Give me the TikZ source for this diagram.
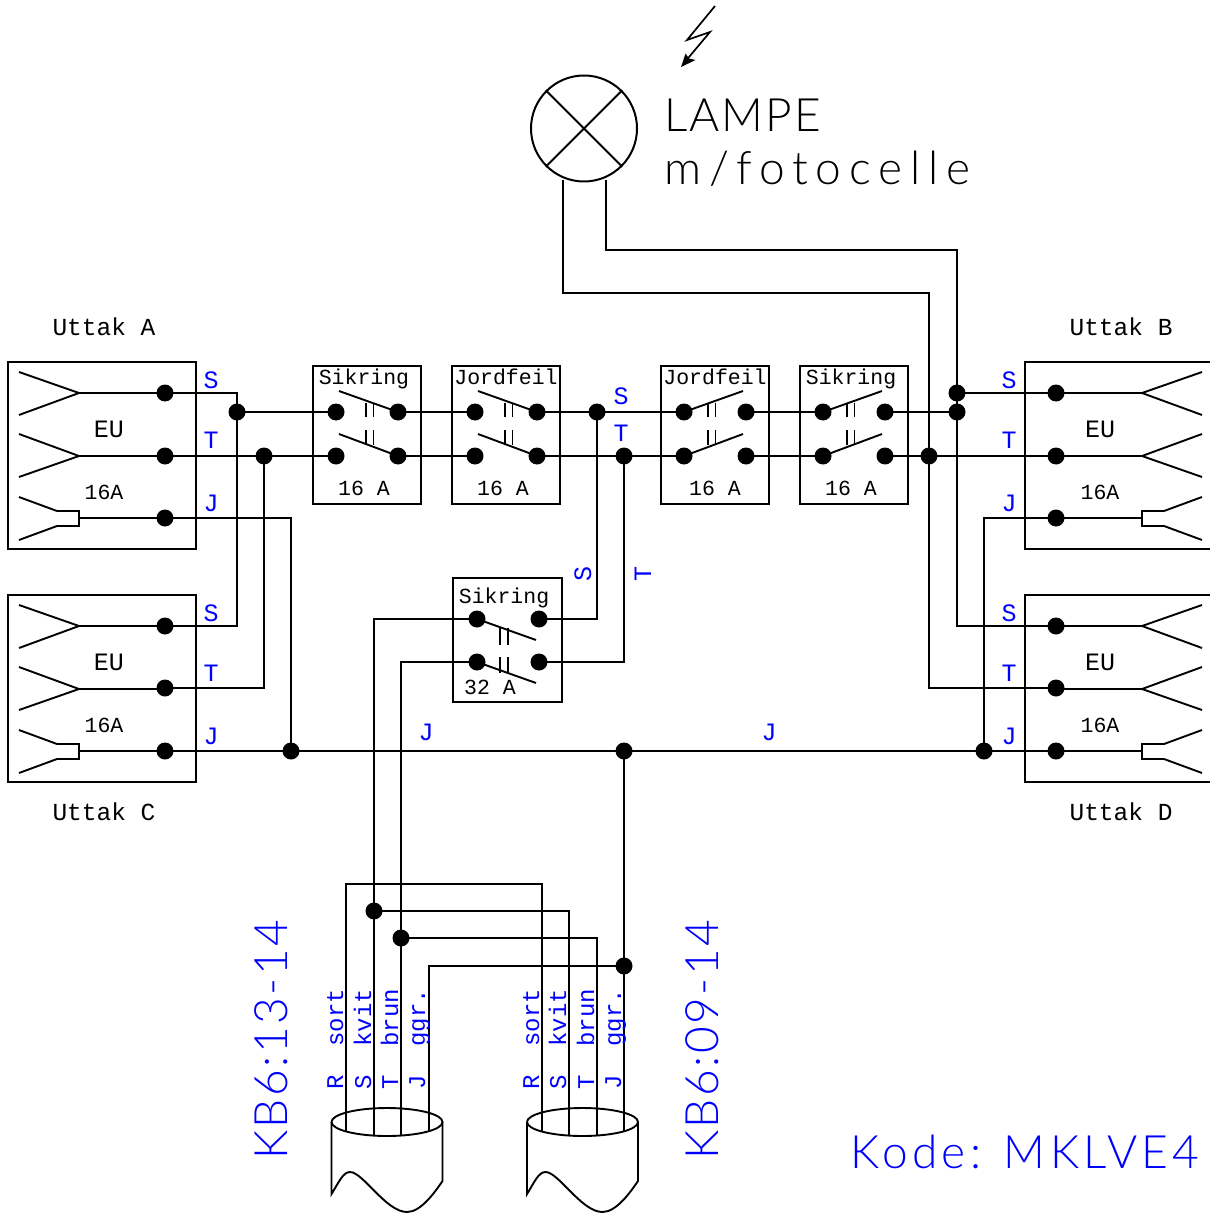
\documentclass[tikz,border=0pt]{standalone}
\usepackage{fontspec}
\setmainfont{Liberation Mono}
\newfontfamily\bigfont{Lato}[UprightFont=* Light]
\newcommand{\bigtext}[1]{\bigfont\addfontfeature{LetterSpace=#1}\fontsize{46}{46}\selectfont}
\definecolor{lblue}{RGB}{0,0,255}
\tikzset{
  wire/.style={line width=1.9pt,line join=miter},
  dot/.style={circle,fill=black,draw=none,minimum size=17pt,inner sep=0pt},
  boxx/.style={line width=2pt},
  tick/.style={line width=1.7pt},
  lab/.style={inner sep=0pt,anchor=base,font=\fontsize{24.5}{24.5}\selectfont},
  flab/.style={inner sep=0pt,anchor=base,font=\fontsize{21.5}{21.5}\selectfont},
  elab/.style={inner sep=0pt,anchor=base,font=\fontsize{25}{25}\selectfont},
  blab/.style={inner sep=0pt,anchor=base,text=lblue,font=\fontsize{25}{25}\selectfont},
  wlab/.style={inner sep=0pt,anchor=base west,rotate=90,text=lblue,font=\fontsize{24}{24}\selectfont},
  biglab/.style={inner sep=0pt,anchor=base west},
}
\begin{document}
\begin{tikzpicture}[x=1pt,y=-1pt]
\useasboundingbox (0,0) rectangle (1210,1214);
% outlet boxes
\draw[boxx] (8,362) rectangle (196,549);
\draw[boxx] (8,595) rectangle (196,782);
\draw[boxx] (1210,362) -- (1025,362) -- (1025,549) -- (1210,549);
\draw[boxx] (1210,595) -- (1025,595) -- (1025,782) -- (1210,782);
% outlet prongs
\foreach \yo in {0,233}{
  \draw[wire] (19,372+\yo) -- (79,393+\yo) -- (19,415+\yo);
  \draw[wire] (19,434+\yo) -- (79,456+\yo) -- (19,477+\yo);
  \draw[wire] (19,497+\yo) -- (57,511+\yo) -- (79,511+\yo) -- (79,526+\yo) -- (57,526+\yo) -- (19,540+\yo);
  \draw[wire] (1202,372+\yo) -- (1142,393+\yo) -- (1202,415+\yo);
  \draw[wire] (1202,434+\yo) -- (1142,456+\yo) -- (1202,477+\yo);
  \draw[wire] (1202,497+\yo) -- (1164,511+\yo) -- (1142,511+\yo) -- (1142,526+\yo) -- (1164,526+\yo) -- (1202,540+\yo);
  \draw[wire] (79,393+\yo) -- (165,393+\yo) (79,456+\yo) -- (165,456+\yo) (79,518+\yo) -- (165,518+\yo);
  \draw[wire] (1142,393+\yo) -- (1056,393+\yo) (1142,456+\yo) -- (1056,456+\yo) (1142,518+\yo) -- (1056,518+\yo);
}
% fuse boxes
\draw[boxx] (313,366) rectangle (421,504);
\draw[boxx] (452,366) rectangle (560,504);
\draw[boxx] (661,366) rectangle (769,504);
\draw[boxx] (800,366) rectangle (908,504);
\draw[boxx] (453,578) rectangle (562,702);
% outlet terminals
\node[dot] (sa) at (165,393) {}; \node[dot] (ta) at (165,456) {}; \node[dot] (ja) at (165,518) {};
\node[dot] (sc) at (165,626) {}; \node[dot] (tc) at (165,688) {}; \node[dot] (jc) at (165,751) {};
\node[dot] (sb) at (1056,393) {}; \node[dot] (tb) at (1056,456) {}; \node[dot] (jb) at (1056,518) {};
\node[dot] (sd) at (1056,626) {}; \node[dot] (td) at (1056,688) {}; \node[dot] (jd) at (1056,751) {};
% junctions
\node[dot] (j1) at (237,412) {}; \node[dot] (j2) at (264,456) {}; \node[dot] (j3) at (291,751) {};
\node[dot] (j4) at (597,412) {}; \node[dot] (j5) at (624,456) {}; \node[dot] (j6) at (624,751) {};
\node[dot] (j7) at (984,751) {}; \node[dot] (j8) at (957,393) {}; \node[dot] (j9) at (957,412) {};
\node[dot] (j10) at (929,456) {};
\node[dot] (k1) at (374,911) {}; \node[dot] (k2) at (401,938) {}; \node[dot] (k3) at (624,966) {};
% breaker contacts
\node[dot] (p1) at (336,412) {}; \node[dot] (p2) at (398,412) {}; \node[dot] (p3) at (336,456) {}; \node[dot] (p4) at (398,456) {};
\node[dot] (q1) at (475,412) {}; \node[dot] (q2) at (537,412) {}; \node[dot] (q3) at (475,456) {}; \node[dot] (q4) at (537,456) {};
\node[dot] (r1) at (684,412) {}; \node[dot] (r2) at (746,412) {}; \node[dot] (r3) at (684,456) {}; \node[dot] (r4) at (746,456) {};
\node[dot] (u1) at (823,412) {}; \node[dot] (u2) at (885,412) {}; \node[dot] (u3) at (823,456) {}; \node[dot] (u4) at (885,456) {};
\node[dot] (v1) at (477,619) {}; \node[dot] (v2) at (539,619) {}; \node[dot] (v3) at (477,662) {}; \node[dot] (v4) at (539,662) {};
% breaker levers and ticks
\foreach \x in {0,139}{
  \draw[wire] (339+\x,391) -- (398+\x,412);
  \draw[wire] (339+\x,434) -- (398+\x,456);
  \draw[tick] (366+\x,403) -- (366+\x,417) (373.5+\x,403) -- (373.5+\x,417);
  \draw[tick] (366+\x,430) -- (366+\x,445) (373.5+\x,430) -- (373.5+\x,445);
}
\foreach \x in {0,139}{
  \draw[wire] (684+\x,412) -- (743+\x,391);
  \draw[wire] (684+\x,456) -- (743+\x,434);
  \draw[tick] (708+\x,403) -- (708+\x,417) (715.5+\x,403) -- (715.5+\x,417);
  \draw[tick] (708+\x,430) -- (708+\x,445) (715.5+\x,430) -- (715.5+\x,445);
}
\draw[wire] (v1.center) -- (536,640);
\draw[wire] (v3.center) -- (536,683);
\draw[tick] (500,628) -- (500,645) (508,628) -- (508,645);
\draw[tick] (500,657) -- (500,673) (508,657) -- (508,673);
% main wiring
\draw[wire] (sa.center) -| (j1.center);
\draw[wire] (sc.center) -| (j1.center);
\draw[wire] (j1.center) -- (p1.center);
\draw[wire] (ta.center) -- (p3.center);
\draw[wire] (tc.center) -| (j2.center);
\draw[wire] (ja.center) -| (j3.center);
\draw[wire] (jc.center) -- (jd.center);
\draw[wire] (jb.center) -| (j7.center);
\draw[wire] (p2.center) -- (q1.center);
\draw[wire] (p4.center) -- (q3.center);
\draw[wire] (q2.center) -- (r1.center);
\draw[wire] (q4.center) -- (r3.center);
\draw[wire] (r2.center) -- (u1.center);
\draw[wire] (r4.center) -- (u3.center);
\draw[wire] (u2.center) -- (j9.center);
\draw[wire] (u4.center) -- (tb.center);
\draw[wire] (j8.center) -- (sb.center);
\draw[wire] (v2.center) -| (j4.center);
\draw[wire] (v4.center) -| (j5.center);
% lamp
\node[circle,draw=black,line width=2pt,minimum size=106pt,inner sep=0pt] (lamp) at (584,128.5) {};
\draw[wire] (lamp.135) -- (lamp.-45);
\draw[wire] (lamp.45) -- (lamp.-135);
\coordinate (la1) at (563,180); \coordinate (la2) at (606,180);
\draw[wire] (la1) -- (563,293) -- (929,293) -- (j10.center) |- (td.center);
\draw[wire] (la2) -- (606,250) -- (957,250) -- (j8.center) |- (sd.center);
% bolt
\draw[wire,line width=1.7pt] (715,6) -- (687,40) -- (710,32) -- (684,63);
\fill (681,67) -- (685.5,53.5) -- (689,58.5) -- (695.5,60) -- cycle;
% cables
\foreach \d in {0,195.5}{
  \draw[wire] (387+\d,1122) ++(-55.5,0) arc[start angle=180,end angle=-180,x radius=55.5pt,y radius=14pt];
  \draw[wire] (331.5+\d,1122) -- (331.5+\d,1194) .. controls (339+\d,1182) and (343+\d,1172) .. (350+\d,1172)
     .. controls (363+\d,1172) and (386+\d,1212) .. (407+\d,1212)
     .. controls (421+\d,1212) and (435+\d,1192) .. (442.5+\d,1181) -- (442.5+\d,1122);
}
\draw[wire] (346,1132) -- (346,884) -- (542,884) -- (542,1132);
\draw[wire] (v1.center) -| (374,1136);
\draw[wire] (v3.center) -| (401,1136);
\draw[wire] (k1.center) -- (569,911) -- (569,1136);
\draw[wire] (k2.center) -- (597,938) -- (597,1136);
\draw[wire] (429,1132) -- (429,966) -- (k3.center);
\draw[wire] (j6.center) -- (624,1132);
% texts
\node[lab] (t1) at (104,335) {Uttak A};
\node[lab] (t2) at (104,820) {Uttak C};
\node[lab] (t3) at (1121,335) {Uttak B};
\node[lab] (t4) at (1121,820) {Uttak D};
\node[elab] (e1) at (109,437) {EU}; \node[flab] (e2) at (104,499) {16A};
\node[elab] (e3) at (109,670) {EU}; \node[flab] (e4) at (104,732) {16A};
\node[elab] (e5) at (1100,437) {EU}; \node[flab] (e6) at (1100,499) {16A};
\node[elab] (e7) at (1100,670) {EU}; \node[flab] (e8) at (1100,732) {16A};
\node[flab] (f1) at (364,384) {Sikring}; \node[flab] (f2) at (364,495) {16 A};
\node[flab] (f3) at (506,384) {Jordfeil}; \node[flab] (f4) at (503,495) {16 A};
\node[flab] (f5) at (715,384) {Jordfeil}; \node[flab] (f6) at (715,495) {16 A};
\node[flab] (f7) at (851,384) {Sikring}; \node[flab] (f8) at (851,495) {16 A};
\node[flab] (f9) at (504,603) {Sikring}; \node[flab] (f10) at (490,694) {32 A};
% blue labels
\node[blab] (b1) at (211,388) {S}; \node[blab] (b2) at (211,448) {T}; \node[blab] (b3) at (211,511) {J};
\node[blab] (b4) at (211,621) {S}; \node[blab] (b5) at (211,681) {T}; \node[blab] (b6) at (211,744) {J};
\node[blab] (b7) at (1009,388) {S}; \node[blab] (b8) at (1009,448) {T}; \node[blab] (b9) at (1009,511) {J};
\node[blab] (b10) at (1009,621) {S}; \node[blab] (b11) at (1009,681) {T}; \node[blab] (b12) at (1009,744) {J};
\node[blab] (b13) at (621,404) {S}; \node[blab] (b14) at (621,441) {T};
\node[blab] (b15) at (426,740) {J}; \node[blab] (b16) at (769,740) {J};
\node[blab,rotate=90] (b17) at (591,574) {S}; \node[blab,rotate=90] (b18) at (651,574) {T};
% cable labels
\node[wlab] (w1) at (343,1090) {R\ \ sort};
\node[wlab] (w2) at (371,1090) {S\ \ kvit};
\node[wlab] (w3) at (398,1090) {T\ \ brun};
\node[wlab] (w4) at (425,1090) {J\ \ ggr.};
\node[wlab] (w5) at (539,1090) {R\ \ sort};
\node[wlab] (w6) at (566,1090) {S\ \ kvit};
\node[wlab] (w7) at (594,1090) {T\ \ brun};
\node[wlab] (w8) at (621,1090) {J\ \ ggr.};
% large labels
\node[biglab] (l1) at (664,132) {\bigtext{4.6}LAMPE};
\node[biglab] (l2) at (664,185) {\bigtext{17}m/fotocelle};
\node[biglab,rotate=90,text=lblue] (l3) at (287,1160) {\bigtext{5.5}KB6:13-14};
\node[biglab,rotate=90,text=lblue] (l4) at (718,1160) {\bigtext{5.5}KB6:09-14};
\node[biglab,text=lblue] (l5) at (850,1168) {\bigtext{9.6}Kode: MKLVE4};
\end{tikzpicture}
\end{document}
